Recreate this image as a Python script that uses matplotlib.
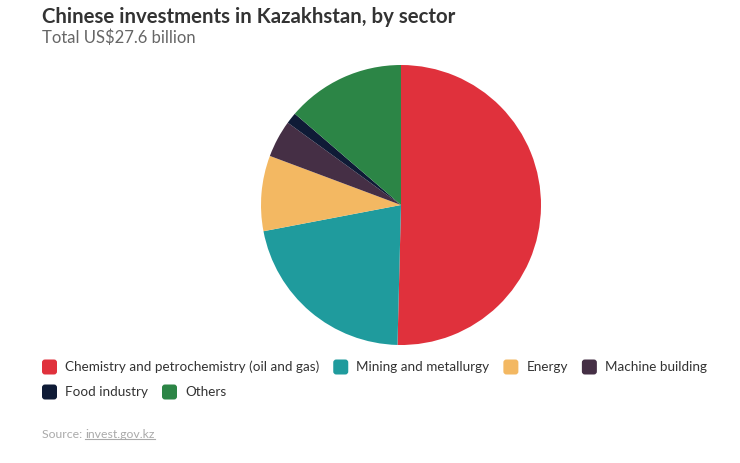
import matplotlib
matplotlib.use("Agg")
import matplotlib.pyplot as plt
from matplotlib.patches import FancyBboxPatch
from matplotlib.lines import Line2D

categories = ["Chemistry and petrochemistry (oil and gas)", "Mining and metallurgy",
              "Energy", "Machine building", "Food industry", "Others"]
shares = [50.4, 21.6, 8.7, 4.3, 1.3, 13.7]
colors = ["#e0313c", "#1f9b9d", "#f3b862", "#452f45", "#0f1b36", "#2c8546"]
legend_rows = [[0, 1, 2, 3], [4, 5]]

plt.rcParams['font.family'] = ['Lato', 'DejaVu Sans']
W, H = 740, 463
fig = plt.figure(figsize=(W / 100, H / 100), dpi=100)
fig.patch.set_facecolor("white")

ax = fig.add_axes([261 / W, (H - 345) / H, 280 / W, 280 / H])
ax.pie(shares, colors=colors, startangle=90, counterclock=False,
       wedgeprops=dict(edgecolor="none", linewidth=0))
ax.set_aspect("equal")
ax.set_xlim(-1, 1)
ax.set_ylim(-1, 1)

fig.text(42 / W, 1 - 17 / H, "Chinese investments in Kazakhstan, by sector",
         fontsize=14.7, fontweight="bold", color="#333333", va="center", ha="left")
fig.text(42 / W, 1 - 38 / H, "Total US$27.6 billion",
         fontsize=12.0, color="#666666", va="center", ha="left")

fig.canvas.draw()
renderer = fig.canvas.get_renderer()

sq = 15
row_y = [367, 392]
for r, row in enumerate(legend_rows):
    x = 42
    yc = row_y[r]
    for i in row:
        p = FancyBboxPatch((x / W, (H - yc - sq / 2) / H), sq / W, sq / H,
                           boxstyle="round,pad=0,rounding_size=0.004",
                           transform=fig.transFigure, facecolor=colors[i], edgecolor="none",
                           mutation_aspect=W / H)
        fig.patches.append(p)
        t = fig.text((x + sq + 8) / W, 1 - yc / H, categories[i], fontsize=9.75,
                     color="#333333", va="center", ha="left")
        bb = t.get_window_extent(renderer)
        x = bb.x1 + 14

src = fig.text(42 / W, 1 - 434 / H, "Source: ", fontsize=8.8, color="#aaaaaa",
               va="center", ha="left")
bb = src.get_window_extent(renderer)
link = fig.text(bb.x1 / W, 1 - 434 / H, "invest.gov.kz", fontsize=8.8, color="#aaaaaa",
                va="center", ha="left")
lb = link.get_window_extent(renderer)
fig.lines.append(Line2D([lb.x0 / W, lb.x1 / W], [(lb.y0 + 1) / H, (lb.y0 + 1) / H],
                        transform=fig.transFigure, color="#aaaaaa", linewidth=0.8))

fig.savefig("out.png", dpi=100, facecolor="white")
